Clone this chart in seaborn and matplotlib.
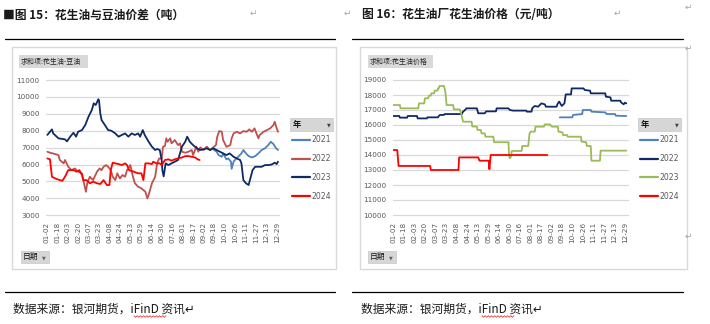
import numpy as np
import pandas as pd
import matplotlib
matplotlib.use("Agg")
import matplotlib.pyplot as plt
import seaborn as sns
from matplotlib.patches import Rectangle
from matplotlib.lines import Line2D

sns.set_theme(style="white")
plt.rcParams["font.family"] = ["DejaVu Sans", "Noto Sans CJK SC"]
CJK = ["Noto Sans CJK SC", "DejaVu Sans"]

# ---------------- categories (month-day trading calendar) ----------------
_all_days = pd.date_range("2024-01-02", "2024-12-31", freq="D").strftime("%m-%d")
holidays = ["02-10", "05-01", "05-02", "05-03",
            "10-01", "10-02", "10-03", "10-04", "10-05", "10-06"]
categories = [d for d in _all_days if d not in holidays]
tick_labels = categories[::16][:23]
years = ["2021", "2022", "2023", "2024"]

# ---------------- chart 15: peanut oil - soybean oil spread ----------------
sp21_d = ["09-17", "09-22", "09-25", "09-30", "10-08", "10-13", "10-16", "10-20", "10-21", "10-24",
          "10-28", "10-31", "11-05", "11-08", "11-12", "11-16", "11-21", "11-26", "12-01", "12-06",
          "12-11", "12-16", "12-20", "12-24", "12-28", "12-31"]
sp21_v = [6900, 6760, 6560, 6460, 6660, 6310, 6360, 6170, 5750, 6170,
          6360, 6460, 6660, 6860, 6660, 6500, 6420, 6500, 6660, 6860,
          6960, 7150, 7350, 7210, 6960, 6860]

sp22_d = ["01-03", "01-07", "01-15", "01-20", "01-22", "01-28", "01-30", "02-04", "02-09", "02-15",
          "02-20", "02-26", "02-28", "03-03", "03-05", "03-09", "03-14", "03-20", "03-24", "03-27",
          "03-30", "04-03", "04-06", "04-10", "04-13", "04-17", "04-20", "04-24", "04-28", "05-05",
          "05-08", "05-13", "05-17", "05-20", "05-25", "05-30", "06-05", "06-08", "06-10", "06-15",
          "06-20", "06-23", "06-26", "06-30", "07-02", "07-05", "07-07", "07-09", "07-13", "07-15",
          "07-20", "07-25", "07-28", "07-31", "08-05", "08-10", "08-15", "08-17", "08-22", "08-25",
          "08-28", "09-02", "09-07", "09-12", "09-17", "09-21", "09-23", "09-26", "09-30", "10-08",
          "10-13", "10-19", "10-21", "10-24", "10-29", "11-03", "11-08", "11-13", "11-17", "11-21",
          "11-25", "11-27", "12-01", "12-03", "12-09", "12-14", "12-19", "12-24", "12-26", "12-29",
          "12-31"]
sp22_v = [6760, 6700, 6620, 6560, 6270, 6070, 6270, 5870, 5670, 5770,
          5580, 5480, 5080, 4390, 4890, 5280, 5080, 5580, 5770, 5670,
          5870, 5970, 5870, 5670, 5280, 5080, 5480, 5180, 5380, 5280,
          5670, 5970, 5280, 4890, 4690, 4590, 4390, 4000, 4200, 4890,
          5280, 6070, 6360, 6360, 7060, 7100, 7550, 7350, 7550, 7250,
          7450, 7150, 7250, 6760, 6700, 6760, 6860, 6560, 7060, 6760,
          7020, 6860, 7060, 6860, 7020, 7150, 7650, 7980, 7940, 7450,
          7050, 7150, 7550, 7840, 7940, 7840, 7980, 7940, 8080, 7940,
          8140, 7940, 7550, 7750, 7940, 8040, 8140, 8340, 8530, 8140,
          7940]

sp23_d = ["01-03", "01-10", "01-12", "01-20", "01-30", "02-02", "02-07", "02-13", "02-17", "02-20",
          "02-26", "03-02", "03-07", "03-12", "03-15", "03-18", "03-22", "03-23", "03-25", "03-27",
          "04-01", "04-06", "04-11", "04-17", "04-22", "04-27", "05-05", "05-10", "05-15", "05-20",
          "05-25", "05-28", "06-01", "06-04", "06-10", "06-15", "06-20", "06-23", "06-27", "06-30",
          "07-01", "07-03", "07-06", "07-10", "07-15", "07-20", "07-25", "07-31", "08-05", "08-08",
          "08-12", "08-17", "08-23", "08-28", "09-02", "09-07", "09-12", "09-17", "09-22", "09-27",
          "10-08", "10-13", "10-18", "10-24", "10-29", "11-03", "11-05", "11-08", "11-12", "11-16",
          "11-18", "11-22", "11-26", "12-01", "12-06", "12-11", "12-16", "12-21", "12-26", "12-29",
          "12-31"]
sp23_v = [7750, 8080, 7840, 7550, 7490, 7370, 7650, 7880, 7650, 7940,
          8040, 8340, 8830, 9220, 9620, 9520, 9860, 9800, 9030, 8630,
          8340, 8040, 8000, 7840, 7650, 7750, 7840, 7650, 7840, 7750,
          7840, 7650, 8040, 7750, 7350, 7060, 6860, 6920, 6860, 6270,
          5670, 5300, 6070, 5970, 6070, 6170, 6270, 7060, 7350, 7650,
          7350, 7150, 6960, 6860, 6900, 6960, 6860, 6960, 6860, 6760,
          6660, 6560, 6660, 6460, 6360, 6270, 6070, 5080, 4890, 4790,
          5080, 5670, 5870, 5870, 5870, 5970, 5970, 6000, 6110, 6030,
          6170]

sp24_d = ["01-03", "01-07", "01-10", "01-15", "01-22", "01-26", "01-30", "02-04", "02-13", "02-18",
          "02-22", "02-26", "02-28", "03-04", "03-09", "03-14", "03-20", "03-25", "03-30", "04-04",
          "04-08", "04-10", "04-13", "04-17", "04-22", "04-27", "05-05", "05-08", "05-11", "05-18",
          "05-25", "05-30", "06-02", "06-05", "06-10", "06-15", "06-17", "06-22", "06-27", "06-30",
          "07-05", "07-10", "07-15", "07-20", "07-25", "07-31", "08-05", "08-10", "08-15", "08-20",
          "08-24", "08-27"]
sp24_v = [6360, 6310, 5280, 5180, 5080, 5040, 5280, 5670, 5670, 5580,
          5670, 5380, 5080, 5080, 4890, 4990, 4890, 4850, 5080, 4790,
          4790, 5670, 6110, 6070, 6030, 5970, 6070, 5970, 5670, 5580,
          5480, 5480, 5080, 6070, 6070, 6030, 6170, 6070, 6070, 5970,
          6270, 6310, 6230, 6310, 6360, 6420, 6500, 6500, 6460, 6420,
          6310, 6270]

# ---------------- chart 16: peanut oil mill price ----------------
pr21_d = ["09-15", "10-10", "10-11", "10-25", "10-26", "11-07", "11-08", "11-29", "12-01", "12-14",
          "12-15", "12-31"]
pr21_v = [16510, 16510, 16670, 16730, 17000, 17000, 16890, 16840, 16730, 16730,
          16620, 16600]

pr22_d = ["01-02", "01-11", "01-12", "01-23", "01-24", "02-07", "02-08", "02-23", "02-24", "03-11",
          "03-12", "03-14", "03-20", "03-21", "04-16", "04-18", "04-21", "04-23", "05-12", "05-14",
          "05-24", "05-26", "06-10", "06-11", "06-29", "07-01", "07-06", "07-26", "07-27", "08-03",
          "08-04", "08-08", "08-13", "08-18", "08-23", "08-25", "09-10", "09-12", "09-14", "09-18",
          "09-22", "09-24", "10-08", "10-09", "10-27", "10-29", "11-06", "11-07", "11-29", "11-30",
          "12-07", "12-08", "12-22", "12-23", "12-27", "12-29", "12-31"]
pr22_v = [16600, 16600, 16490, 16490, 16600, 16600, 16440, 16440, 16510, 16510,
          16600, 16670, 16670, 16730, 16730, 16890, 17000, 17110, 17110, 16780,
          16780, 16910, 16910, 17110, 17110, 17000, 16960, 16960, 16890, 16890,
          17110, 17270, 17220, 17440, 17380, 17220, 17220, 17440, 17560, 17270,
          17440, 18040, 18040, 18440, 18440, 18330, 18290, 18110, 18110, 17890,
          17840, 17620, 17620, 17510, 17380, 17490, 17440]

pr23_d = ["01-02", "01-12", "01-13", "02-09", "02-11", "02-19", "02-20", "02-25", "02-26", "02-29",
          "03-01", "03-05", "03-06", "03-10", "03-11", "03-12", "03-13", "03-20", "03-22", "03-24",
          "04-03", "04-04", "04-13", "04-15", "04-18", "05-04", "05-05", "05-12", "05-13", "05-18",
          "05-19", "05-24", "05-25", "06-06", "06-07", "06-29", "06-30", "07-01", "07-03", "07-04",
          "07-19", "07-20", "07-29", "07-31", "08-02", "08-08", "08-09", "08-22", "08-23", "08-31",
          "09-02", "09-03", "09-12", "09-13", "09-19", "09-20", "09-26", "09-27", "10-23", "10-24",
          "10-31", "11-01", "11-07", "11-08", "11-21", "11-22", "12-31"]
pr23_v = [17330, 17330, 17110, 17110, 17440, 17440, 17780, 17780, 17960, 17960,
          18110, 18110, 18290, 18290, 18440, 18440, 18600, 18600, 18220, 17330,
          17330, 17040, 17040, 16780, 16220, 16220, 15900, 15900, 15670, 15670,
          15440, 15440, 15220, 15220, 14850, 14850, 13890, 13780, 13900, 14270,
          14270, 14600, 14600, 15440, 15560, 15560, 15890, 15890, 16040, 16040,
          15930, 15890, 15890, 15560, 15510, 15330, 15330, 15220, 15220, 14890,
          14850, 14600, 14600, 13620, 13620, 14290, 14290]

pr24_d = ["01-02", "01-08", "01-10", "02-28", "02-29", "04-11", "04-12", "05-14", "05-16", "05-30",
          "05-31", "06-02", "08-27"]
pr24_v = [14330, 14330, 13270, 13270, 13000, 13000, 13840, 13840, 13620, 13620,
          13050, 14000, 14000]

spread_series = {"2021": (sp21_d, sp21_v), "2022": (sp22_d, sp22_v),
                 "2023": (sp23_d, sp23_v), "2024": (sp24_d, sp24_v)}
price_series = {"2021": (pr21_d, pr21_v), "2022": (pr22_d, pr22_v),
                "2023": (pr23_d, pr23_v), "2024": (pr24_d, pr24_v)}

spread_colors = {"2021": "#4F81BD", "2022": "#C0504D", "2023": "#0E2A66", "2024": "#FF0000"}
price_colors = {"2021": "#4F81BD", "2022": "#0E2A66", "2023": "#9BBB59", "2024": "#FF0000"}

W, H = 710, 324
fig = plt.figure(figsize=(W / 100, H / 100), dpi=100)
fig.patch.set_facecolor("white")

# overlay in pixel coordinates for page decorations
ov = fig.add_axes([0, 0, 1, 1])
ov.set_xlim(0, W)
ov.set_ylim(H, 0)
ov.axis("off")
ov.patch.set_alpha(0)


def px_rect(x0, y0, x1, y1):
    return [x0 / W, (H - y1) / H, (x1 - x0) / W, (y1 - y0) / H]


def draw_panel(series, colors, rect, xlim, ylim, yticks):
    ax = fig.add_axes(px_rect(*rect))
    frames = [pd.DataFrame({"date": d, "value": v, "year": k}) for k, (d, v) in series.items()]
    df = pd.concat(frames, ignore_index=True)
    df["pos"] = pd.Categorical(df["date"], categories=categories).codes
    sns.lineplot(data=df, x="pos", y="value", hue="year", hue_order=years,
                 palette=colors, ax=ax, linewidth=1.3, legend=False,
                 estimator=None, sort=True)
    ax.set_xlim(*xlim)
    ax.set_ylim(*ylim)
    ax.set_yticks(yticks)
    ax.set_yticklabels([str(t) for t in yticks])
    ax.set_xticks(range(0, 16 * len(tick_labels), 16))
    ax.set_xticklabels(tick_labels, rotation=90)
    ax.tick_params(axis="y", length=0, pad=4.5, labelsize=5.2, labelcolor="#595959")
    ax.tick_params(axis="x", length=0, pad=4.6, labelsize=5.2, labelcolor="#595959")
    ax.set_xlabel("")
    ax.set_ylabel("")
    for s in ax.spines.values():
        s.set_visible(False)
    ax.yaxis.grid(True, color="#D9D9D9", linewidth=0.9)
    ax.xaxis.grid(False)
    ax.set_axisbelow(True)
    for gl in ax.get_ygridlines():
        gl.set_clip_on(False)
    ax.patch.set_alpha(0)
    return ax


ax1 = draw_panel(spread_series, spread_colors, (46, 80, 279, 215.3),
                 (-1.07, 355.5), (3000, 11000), list(range(3000, 11001, 1000)))
ax2 = draw_panel(price_series, price_colors, (393, 80, 628, 215),
                 (-0.46, 356.6), (10000, 19000), list(range(10000, 19001, 1000)))


def legend_for(colors, x_hdr, x_leg):
    # header "年" box
    ov.add_patch(Rectangle((x_hdr, 118), 43, 13, facecolor="#D6D6D6", edgecolor="#C8C8C8", lw=0.5))
    ov.text(x_hdr + 3, 124.8, "年", fontsize=6, fontweight="bold", family=CJK,
            ha="left", va="center", color="#111111")
    ov.text(x_hdr + 39, 125, "▼", fontsize=3.5, ha="center", va="center", color="#404040")
    handles = [Line2D([], [], color=colors[y], lw=1.6) for y in years]
    fig.legend(handles, years, loc="upper left",
               bbox_to_anchor=(x_leg / W, 1 - 135.5 / H), bbox_transform=fig.transFigure,
               frameon=False, fontsize=5.6, handlelength=2.3, handletextpad=0.25,
               labelspacing=1.25, borderpad=0, borderaxespad=0, labelcolor="#595959")


legend_for(spread_colors, 290, 292)
legend_for(price_colors, 638, 640)

# chart frames
ov.add_patch(Rectangle((12, 47), 324, 222, fill=False, edgecolor="#D9D9D9", lw=1.0))
ov.add_patch(Rectangle((360, 47), 327, 222, fill=False, edgecolor="#D9D9D9", lw=1.0))

# field buttons
ov.add_patch(Rectangle((19, 55), 69, 13, facecolor="#D9D9D9", edgecolor="none"))
ov.text(21, 61.8, "求和项:花生油-豆油", fontsize=5, family=CJK, ha="left", va="center", color="#262626")
ov.add_patch(Rectangle((368, 55), 65, 13, facecolor="#D9D9D9", edgecolor="none"))
ov.text(370, 61.8, "求和项:花生油价格", fontsize=5, family=CJK, ha="left", va="center", color="#262626")
for bx in (21, 368):
    ov.add_patch(Rectangle((bx, 251), 28, 12, facecolor="#D6D6D6", edgecolor="#C8C8C8", lw=0.5))
    ov.text(bx + 2, 257.3, "日期", fontsize=5.6, family=CJK, ha="left", va="center", color="#111111")
    ov.text(bx + 23, 257.5, "▼", fontsize=3.5, ha="center", va="center", color="#606060")

# titles and rules
ov.text(3, 15, "■图 15：花生油与豆油价差（吨）", fontsize=8.5, fontweight="bold", family=CJK,
        ha="left", va="center", color="#1A1A1A")
ov.text(362, 15, "图 16：花生油厂花生油价格（元/吨）", fontsize=8.5, fontweight="bold", family=CJK,
        ha="left", va="center", color="#1A1A1A")
for x0, x1 in ((5, 335), (352, 683)):
    ov.plot([x0, x1], [38.5, 38.5], color="black", lw=0.9)
    ov.plot([x0, x1], [291.7, 291.7], color="black", lw=0.9)

ov.text(13, 309, "数据来源：银河期货，iFinD 资讯↵", fontsize=8.5, family=CJK,
        ha="left", va="center", color="#1A1A1A")
ov.text(361, 309, "数据来源：银河期货，iFinD 资讯↵", fontsize=8.5, family=CJK,
        ha="left", va="center", color="#1A1A1A")
for ux in (134, 482):
    zx = np.arange(ux, ux + 33, 1.6)
    zy = 316.5 + 0.8 * np.where(np.arange(len(zx)) % 2 == 0, -1, 1)
    ov.plot(zx, zy, color="#E02020", lw=0.5)

for (mx, my) in ((253, 13), (347, 13), (617, 13), (688, 7), (688, 48), (688, 236)):
    ov.text(mx, my, "↵", fontsize=6.5, ha="center", va="center", color="#A6A6A6", family=["DejaVu Sans"])

fig.savefig("out.png", dpi=100, facecolor="white")
